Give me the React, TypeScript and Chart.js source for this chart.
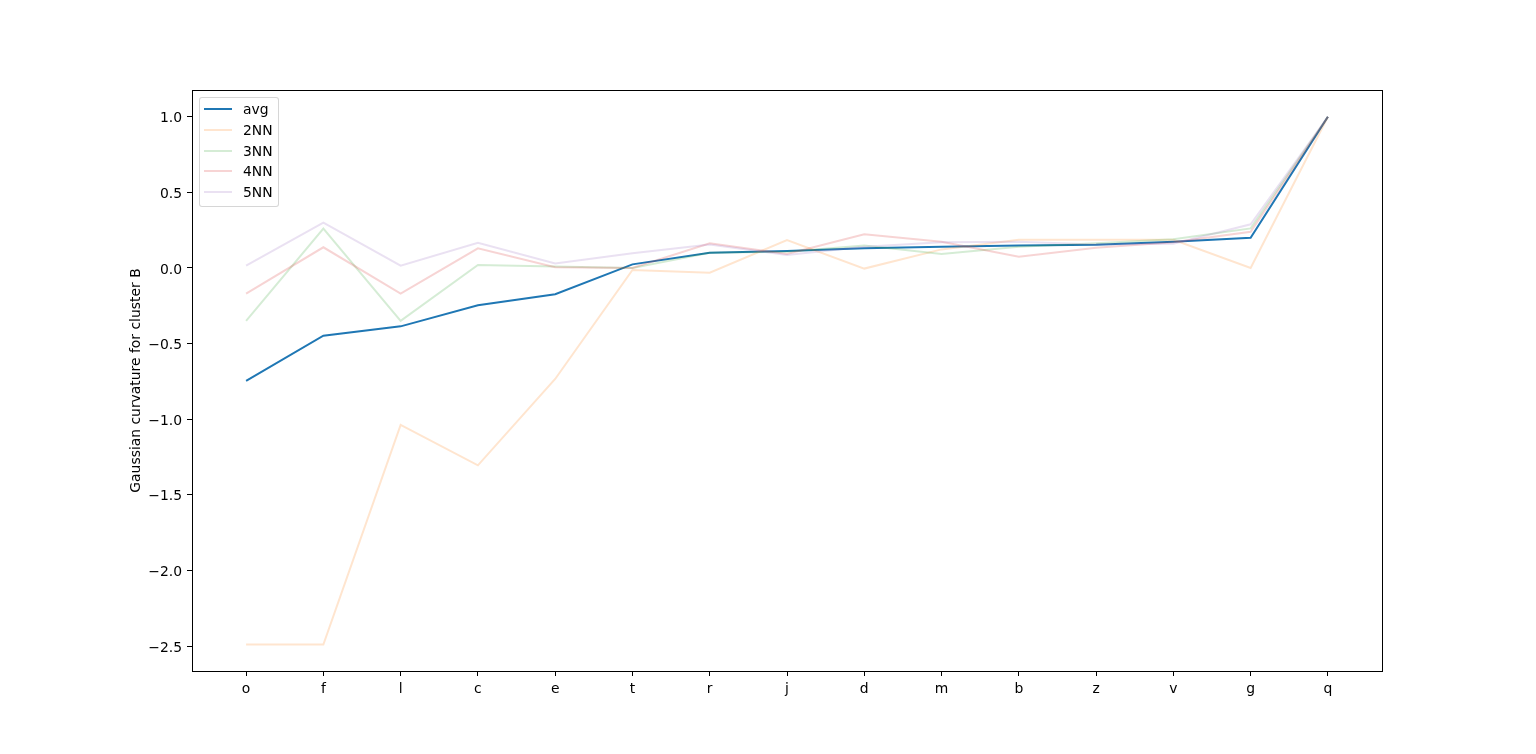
import React, { useEffect, useRef } from "react";
import { Chart, registerables } from "chart.js";

Chart.register(...registerables);

const categories = ["o", "f", "l", "c", "e", "t", "r", "j", "d", "m", "b", "z", "v", "g", "q"];
const avgValues = [-0.747, -0.448, -0.386, -0.247, -0.174, 0.024, 0.1, 0.112, 0.13, 0.141, 0.148, 0.154, 0.174, 0.2, 1.0];
const nn2Values = [-2.49, -2.49, -1.038, -1.305, -0.734, -0.013, -0.031, 0.185, -0.004, 0.123, 0.187, 0.187, 0.187, 0.0, 1.0];
const nn3Values = [-0.35, 0.26, -0.35, 0.02, 0.01, 0.0, 0.1, 0.108, 0.148, 0.093, 0.141, 0.163, 0.19, 0.262, 1.0];
const nn4Values = [-0.17, 0.137, -0.17, 0.13, 0.005, 0.0, 0.163, 0.093, 0.223, 0.174, 0.075, 0.134, 0.17, 0.24, 1.0];
const nn5Values = [0.015, 0.3, 0.015, 0.167, 0.03, 0.097, 0.155, 0.086, 0.14, 0.17, 0.174, 0.155, 0.16, 0.289, 1.0];
const yTickValues = [-2.5, -2.0, -1.5, -1.0, -0.5, 0.0, 0.5, 1.0];

const seriesLabels = ["avg", "2NN", "3NN", "4NN", "5NN"];
const seriesValues = [avgValues, nn2Values, nn3Values, nn4Values, nn5Values];
const seriesColors = [
  "#1f77b4",
  "rgba(255,127,14,0.2)",
  "rgba(44,160,44,0.2)",
  "rgba(214,39,40,0.2)",
  "rgba(148,103,189,0.2)",
];

const FONT = "'DejaVu Sans', sans-serif";
const FS = 13.9;

const framePlugin = {
  id: "frame",
  afterDraw(chart: any) {
    const { ctx, chartArea } = chart;
    ctx.save();
    ctx.strokeStyle = "#000";
    ctx.lineWidth = 1;
    const l = Math.round(chartArea.left) + 0.5;
    const t = Math.round(chartArea.top) + 0.5;
    const r = Math.round(chartArea.right) + 0.5;
    const b = Math.round(chartArea.bottom) + 0.5;
    ctx.strokeRect(l, t, r - l, b - t);
    ctx.restore();
  },
};

export default function App() {
  const canvasRef = useRef<HTMLCanvasElement | null>(null);

  useEffect(() => {
    const canvas = canvasRef.current;
    if (!canvas) return;
    const chart = new Chart(canvas, {
      type: "line",
      data: {
        datasets: seriesLabels.map((label, s) => ({
          label,
          data: seriesValues[s].map((v, i) => ({ x: i, y: v })),
          borderColor: seriesColors[s],
          backgroundColor: seriesColors[s],
          borderWidth: 2,
          pointRadius: 0,
          pointHoverRadius: 0,
          fill: false,
          tension: 0,
          order: seriesLabels.length - s,
        })),
      },
      options: {
        animation: false,
        responsive: false,
        devicePixelRatio: 1,
        events: [],
        layout: { padding: { top: 90, right: 154, bottom: 0, left: 0 } },
        plugins: {
          legend: { display: false },
          tooltip: { enabled: false },
        },
        scales: {
          x: {
            type: "linear",
            min: -0.7,
            max: 14.7,
            afterBuildTicks: (scale: any) => {
              scale.ticks = categories.map((_, i) => ({ value: i }));
            },
            afterFit: (scale: any) => {
              scale.height = 83;
            },
            ticks: {
              autoSkip: false,
              maxRotation: 0,
              padding: 5,
              color: "#000",
              font: { family: FONT, size: FS },
              callback: (v: any) => categories[Math.round(Number(v))] ?? "",
            },
            grid: {
              display: true,
              drawOnChartArea: false,
              drawTicks: true,
              tickLength: 5,
              color: "#000",
              lineWidth: 1,
            },
            border: { display: false },
          },
          y: {
            type: "linear",
            min: -2.665,
            max: 1.177,
            afterBuildTicks: (scale: any) => {
              scale.ticks = yTickValues.map((v) => ({ value: v }));
            },
            afterFit: (scale: any) => {
              scale.width = 192;
            },
            title: {
              display: true,
              text: "Gaussian curvature for cluster B",
              color: "#000",
              font: { family: FONT, size: FS },
              padding: { top: 128, bottom: 0 },
            },
            ticks: {
              padding: 5,
              labelOffset: 2,
              color: "#000",
              font: { family: FONT, size: FS },
              callback: (v: any) => Number(v).toFixed(1).replace("-", "\u2212"),
            },
            grid: {
              display: true,
              drawOnChartArea: false,
              drawTicks: true,
              tickLength: 5,
              color: "#000",
              lineWidth: 1,
            },
            border: { display: false },
          },
        },
      },
      plugins: [framePlugin],
    } as any);
    return () => chart.destroy();
  }, []);

  const rowTop0 = 11.7;
  const rowStep = 20.9;

  return (
    <div style={{ position: "absolute", left: 0, top: 0, width: 1536, height: 754, background: "#fff" }}>
      <canvas ref={canvasRef} width={1536} height={754} style={{ display: "block", width: 1536, height: 754 }} />
      <div
        style={{
          position: "absolute",
          left: 199,
          top: 97,
          width: 80,
          height: 110,
          boxSizing: "border-box",
          border: "1px solid rgba(204,204,204,0.8)",
          borderRadius: 3,
          background: "rgba(255,255,255,0.8)",
          fontFamily: FONT,
          fontSize: FS,
          color: "#000",
        }}
      >
        {seriesLabels.map((label, i) => {
          const cy = rowTop0 + rowStep * i - 1;
          return (
            <React.Fragment key={label}>
              <div
                style={{
                  position: "absolute",
                  left: 4,
                  top: cy - 1,
                  width: 28,
                  height: 2,
                  background: seriesColors[i],
                }}
              />
              <span
                style={{
                  position: "absolute",
                  left: 43,
                  top: cy - 8,
                  lineHeight: "16px",
                  whiteSpace: "nowrap",
                }}
              >
                {label}
              </span>
            </React.Fragment>
          );
        })}
      </div>
    </div>
  );
}
